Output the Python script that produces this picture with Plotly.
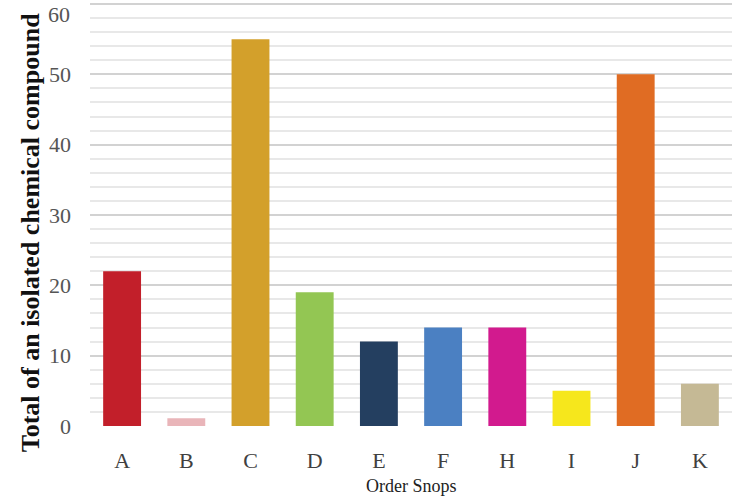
import plotly.graph_objects as go

categories = ["A", "B", "C", "D", "E", "F", "H", "I", "J", "K"]
values = [22, 1.1, 55, 19, 12, 14, 14, 5, 50, 6]
colors = ["#c21f2a", "#e9b5b9", "#d3a02b", "#93c653", "#243f60",
          "#4b80c2", "#d21a8e", "#f6e71c", "#e06c23", "#c5b995"]
y_ticks = [0, 10, 20, 30, 40, 50, 60]

tick_font = dict(size=22, color="#555555", family="Liberation Serif, Times New Roman, serif")

fig = go.Figure()
fig.add_trace(go.Bar(x=categories, y=values, marker=dict(color=colors, line=dict(width=0))))

fig.update_layout(
    width=750, height=499,
    margin=dict(l=90, r=18, t=0, b=73, autoexpand=False),
    paper_bgcolor="white", plot_bgcolor="white",
    bargap=0.41,
    showlegend=False,
    font=dict(family="Liberation Serif, Times New Roman, serif"),
    xaxis=dict(
        showgrid=False, zeroline=False, showline=False, automargin=False,
        tickfont=dict(size=22, color="#404040"), ticks="",
        ticklabelstandoff=19,
    ),
    yaxis=dict(
        range=[0, 60.57], tickvals=y_ticks, automargin=False,
        showgrid=True, gridcolor="#d2d2d2", gridwidth=2,
        minor=dict(dtick=2, showgrid=True, gridcolor="#e8e8e8", gridwidth=1.5),
        zeroline=False, showline=False, ticks="",
        tickfont=tick_font,
        ticklabelstandoff=18,
    ),
)

# top tick label (plotly hides it because it overflows the page edge)
fig.add_annotation(
    text=str(y_ticks[-1]), xref="paper", yref="y",
    x=-18 / 642, y=y_ticks[-1], xanchor="right", yanchor="top", yshift=4,
    showarrow=False, font=tick_font,
)

fig.add_annotation(
    text="<b>Total of an isolated chemical compound</b>",
    textangle=-90, xref="paper", yref="paper",
    x=-0.093, y=0.453, xanchor="center", yanchor="middle",
    showarrow=False, font=dict(size=26, color="#111111",
                               family="Liberation Serif, Times New Roman, serif"),
)
fig.add_annotation(
    text="Order Snops", xref="paper", yref="paper",
    x=0.5, y=-0.170, xanchor="center", yanchor="bottom",
    showarrow=False, font=dict(size=18, color="#222222",
                               family="Liberation Serif, Times New Roman, serif"),
)

fig.write_html("out.html", config={"displayModeBar": False},
               post_script="document.body.style.margin='0';")
